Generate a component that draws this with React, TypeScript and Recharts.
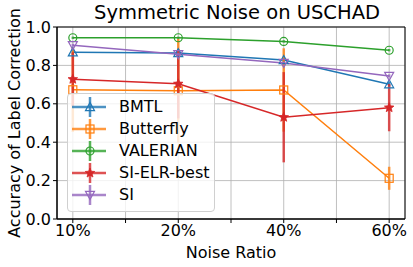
import { CartesianGrid, ErrorBar, Label, Legend, Line, LineChart, ReferenceArea, XAxis, YAxis } from 'recharts';

const ratios = ['10%', '20%', '40%', '60%'];

const bmtl = [0.868, 0.864, 0.828, 0.702];
const bmtlErr = [0.012, 0.01, 0.012, 0.012];
const butterfly = [0.673, 0.668, 0.672, 0.212];
const butterflyErr = [0.22, 0.27, 0.217, 0.06];
const valerian = [0.944, 0.944, 0.925, 0.879];
const valerianErr = [0.006, 0.006, 0.006, 0.006];
const siElr = [0.728, 0.704, 0.53, 0.58];
const siElrErr = [0.14, 0.18, 0.235, 0.123];
const si = [0.905, 0.858, 0.813, 0.745];
const siErr = [0.008, 0.008, 0.008, 0.008];

const FONT = '"DejaVu Sans", sans-serif';

type Shape = 'tri' | 'square' | 'circle' | 'star' | 'tridown';

const series: { key: string; name: string; color: string; shape: Shape; values: number[]; errs: number[] }[] = [
  { key: 'bmtl', name: 'BMTL', color: '#1f77b4', shape: 'tri', values: bmtl, errs: bmtlErr },
  { key: 'butterfly', name: 'Butterfly', color: '#ff7f0e', shape: 'square', values: butterfly, errs: butterflyErr },
  { key: 'valerian', name: 'VALERIAN', color: '#2ca02c', shape: 'circle', values: valerian, errs: valerianErr },
  { key: 'siElr', name: 'SI-ELR-best', color: '#d62728', shape: 'star', values: siElr, errs: siElrErr },
  { key: 'si', name: 'SI', color: '#9467bd', shape: 'tridown', values: si, errs: siErr },
];

const data = ratios.map((label, i) => {
  const row: Record<string, number | string> = { x: i, label };
  series.forEach((s) => {
    row[s.key] = s.values[i];
    row[s.key + 'Err'] = s.errs[i];
  });
  return row;
});

function Marker({ shape, cx, cy, color }: { shape: Shape; cx: number; cy: number; color: string }) {
  const r = 4.5;
  const common = { stroke: color, strokeWidth: 1.2, fill: 'none' };
  if (shape === 'tri')
    return <polygon points={`${cx},${cy - r} ${cx - r},${cy + r * 0.8} ${cx + r},${cy + r * 0.8}`} {...common} />;
  if (shape === 'tridown')
    return <polygon points={`${cx},${cy + r} ${cx - r},${cy - r * 0.8} ${cx + r},${cy - r * 0.8}`} {...common} />;
  if (shape === 'square') return <rect x={cx - 4} y={cy - 4} width={8} height={8} {...common} />;
  if (shape === 'circle') return <circle cx={cx} cy={cy} r={4} {...common} />;
  const pts: string[] = [];
  for (let k = 0; k < 10; k++) {
    const rr = k % 2 === 0 ? 5 : 2.2;
    const a = (Math.PI / 5) * k - Math.PI / 2;
    pts.push(`${cx + rr * Math.cos(a)},${cy + rr * Math.sin(a)}`);
  }
  return <polygon points={pts.join(' ')} fill={color} stroke={color} strokeWidth={0.8} />;
}

function renderLegend() {
  return (
    <div
      style={{
        width: 146,
        height: 117,
        background: 'rgba(255,255,255,0.8)',
        border: '1px solid #d0d0d0',
        borderRadius: 4,
        position: 'relative',
      }}
    >
      {series.map((s, i) => (
        <div key={s.key} style={{ position: 'absolute', left: 0, top: 2 + i * 22, height: 22, width: 146 }}>
          <svg width={44} height={22} style={{ position: 'absolute', left: 4, top: 0 }}>
            <line x1={0} y1={11} x2={34} y2={11} stroke={s.color} strokeWidth={2.5} strokeOpacity={0.8} />
            <line x1={18} y1={1} x2={18} y2={21} stroke={s.color} strokeWidth={2.5} strokeOpacity={0.8} />
            <Marker shape={s.shape} cx={18} cy={11} color={s.color} />
          </svg>
          <span
            style={{
              position: 'absolute',
              left: 51,
              top: 1,
              fontSize: 16,
              fontFamily: FONT,
              color: '#000',
              lineHeight: '20px',
              whiteSpace: 'nowrap',
            }}
          >
            {s.name}
          </span>
        </div>
      ))}
    </div>
  );
}

export default function App() {
  return (
    <div style={{ position: 'fixed', left: 0, top: 0, width: 413, height: 267, background: '#fff' }}>
      <div
        style={{
          position: 'absolute',
          left: 0,
          width: 413,
          top: 1,
          textAlign: 'center',
          paddingLeft: 61,
          boxSizing: 'border-box',
          fontFamily: FONT,
          fontSize: 19.5,
          color: '#000',
        }}
      >
        Symmetric Noise on USCHAD
      </div>
      <LineChart width={413} height={267} data={data} margin={{ top: 27, right: 8, bottom: 18, left: 0 }}>
        <CartesianGrid stroke="#b0b0b0" strokeWidth={0.8} />
        <XAxis
          dataKey="x"
          type="number"
          domain={[-0.15, 3.15]}
          ticks={[0, 0.5, 1, 1.5, 2, 2.5, 3]}
          tickFormatter={(v: number) => (Number.isInteger(v) ? ratios[v] : '')}
          interval={0}
          allowDataOverflow
          height={30}
          tickSize={4}
          tickMargin={2}
          stroke="#000"
          tick={{ fill: '#000', fontSize: 16, fontFamily: FONT }}
        >
          <Label
            content={() => (
              <text x={231} y={258} textAnchor="middle" fontSize={16} fontFamily={FONT} fill="#000">
                Noise Ratio
              </text>
            )}
          />
        </XAxis>
        <YAxis
          type="number"
          domain={[0, 1]}
          ticks={[0, 0.2, 0.4, 0.6, 0.8, 1]}
          tickFormatter={(v: number) => v.toFixed(1)}
          width={57}
          tickSize={4}
          tickMargin={2}
          stroke="#000"
          tick={{ fill: '#000', fontSize: 16, fontFamily: FONT }}
        >
          <Label
            content={() => (
              <text
                x={20}
                y={123}
                transform="rotate(-90 20 123)"
                textAnchor="middle"
                fontSize={16}
                fontFamily={FONT}
                fill="#000"
              >
                Accuracy of Label Correction
              </text>
            )}
          />
        </YAxis>
        <ReferenceArea x1={-0.15} x2={3.15} y1={0} y2={1} fill="none" fillOpacity={0} stroke="#000" strokeWidth={1} ifOverflow="visible" />
        {series.map((s) => (
          <Line
            key={s.key}
            dataKey={s.key}
            name={s.name}
            type="linear"
            stroke={s.color}
            strokeWidth={1.5}
            isAnimationActive={false}
            dot={(p: any) => <Marker key={p.index} shape={s.shape} cx={p.cx} cy={p.cy} color={s.color} />}
            activeDot={false}
          >
            <ErrorBar dataKey={s.key + 'Err'} direction="y" width={0} stroke={s.color} strokeWidth={2.5} strokeOpacity={0.8} />
          </Line>
        ))}
        <Legend
          layout="vertical"
          align="center"
          verticalAlign="middle"
          content={renderLegend}
          wrapperStyle={{ position: 'absolute', left: 67, top: 93, width: 148, height: 119 }}
        />
      </LineChart>
    </div>
  );
}
